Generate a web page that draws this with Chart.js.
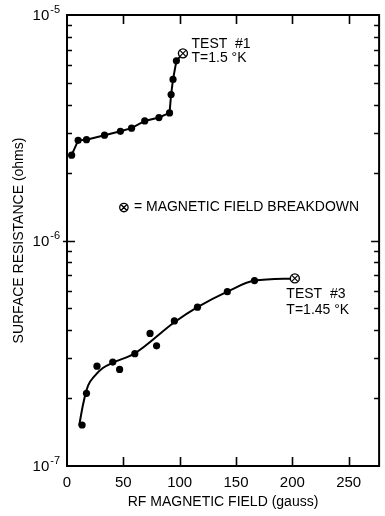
<!DOCTYPE html>
<html>
<head>
<meta charset="utf-8">
<script src="https://cdn.jsdelivr.net/npm/chart.js@4.4.1/dist/chart.umd.min.js"></script>
<style>
  html, body { margin: 0; padding: 0; background: #fff; }
</style>
</head>
<body>
<canvas id="chart" width="385" height="516"></canvas>
<script>
// Test #1, T = 1.5 K (measured points, joined by straight segments)
const test1Field = [4.1, 9.9, 17.3, 33.3, 47.4, 57.3, 69.0, 81.6, 91.0, 92.4, 94.1, 97.1];
const test1Resistance = [2.39e-6, 2.78e-6, 2.80e-6, 2.93e-6, 3.05e-6, 3.15e-6, 3.39e-6, 3.51e-6, 3.68e-6, 4.44e-6, 5.18e-6, 6.26e-6];

// Test #3, T = 1.45 K (measured points)
const test3Field = [13.4, 17.3, 26.6, 40.6, 46.7, 60.2, 73.7, 79.5, 95.3, 115.8, 142.3, 166.4];
const test3Resistance = [1.52e-7, 2.10e-7, 2.77e-7, 2.89e-7, 2.68e-7, 3.15e-7, 3.87e-7, 3.41e-7, 4.40e-7, 5.06e-7, 5.93e-7, 6.64e-7];

// Test #3 hand-drawn curve
const test3CurveField = [10.8, 14.3, 18.7, 24.6, 31.8, 40.6, 60.2, 95.3, 115.8, 142.3, 166.4, 202.2];
const test3CurveResistance = [1.51e-7, 1.88e-7, 2.27e-7, 2.51e-7, 2.72e-7, 2.87e-7, 3.16e-7, 4.34e-7, 5.06e-7, 5.93e-7, 6.64e-7, 6.79e-7];

// magnetic field breakdown
const breakdownField = [102.9, 202.2];
const breakdownResistance = [6.76e-6, 6.79e-7];

const xTickValues = [0, 50, 100, 150, 200, 250];
const yDecades = [1e-7, 1e-6, 1e-5];
const yDecadeExponents = ["-7", "-6", "-5"];

const FONT = "'Liberation Sans', Arial, sans-serif";

const toPoints = (xs, ys) => xs.map((x, i) => ({ x: x, y: ys[i] }));

// frame with inward ticks on all four sides, decade labels and the text notes
const framePlugin = {
  id: "frame",
  afterDatasetsDraw(chart) {
    const { ctx, chartArea: a, scales } = chart;
    const xs = scales.x, ys = scales.y;
    ctx.save();
    ctx.strokeStyle = "#000";
    ctx.lineWidth = 2;
    ctx.strokeRect(a.left, a.top, a.right - a.left, a.bottom - a.top);

    ctx.lineWidth = 1.6;
    ctx.beginPath();
    xTickValues.slice(1).forEach((v) => {
      const px = Math.round(xs.getPixelForValue(v)) + 0.5;
      ctx.moveTo(px, a.bottom); ctx.lineTo(px, a.bottom - 9);
      ctx.moveTo(px, a.top); ctx.lineTo(px, a.top + 9);
    });
    yDecades.slice(0, -1).forEach((d) => {
      for (let m = 2; m <= 9; m++) {
        const py = Math.round(ys.getPixelForValue(d * m)) + 0.5;
        ctx.moveTo(a.left, py); ctx.lineTo(a.left + 5, py);
        ctx.moveTo(a.right, py); ctx.lineTo(a.right - 5, py);
      }
    });
    const mid = Math.round(ys.getPixelForValue(1e-6)) + 0.5;
    ctx.moveTo(a.left - 4, mid); ctx.lineTo(a.left + 8, mid);
    ctx.moveTo(a.right, mid); ctx.lineTo(a.right - 8, mid);
    ctx.stroke();

    ctx.fillStyle = "#000";

    // decade labels: 10 with a raised exponent
    ctx.textBaseline = "middle";
    ctx.textAlign = "right";
    yDecades.forEach((d, i) => {
      const py = ys.getPixelForValue(d);
      ctx.font = "11px " + FONT;
      const ew = ctx.measureText(yDecadeExponents[i]).width;
      ctx.fillText(yDecadeExponents[i], a.left - 7, py - 5);
      ctx.font = "15px " + FONT;
      ctx.fillText("10", a.left - 8 - ew, py + 1);
    });

    // notes
    ctx.font = "14px " + FONT;
    ctx.textAlign = "left";
    const note = (text, x, y) => ctx.fillText(text, xs.getPixelForValue(x), ys.getPixelForValue(y));
    note("TEST  #1", 110.5, 7.43e-6);
    note("T=1.5 °K", 110.5, 6.44e-6);
    note("TEST  #3", 194.7, 5.81e-7);
    note("T=1.45 °K", 194.7, 4.93e-7);

    // legend: breakdown symbol
    const lx = xs.getPixelForValue(50.5), ly = ys.getPixelForValue(1.40e-6);
    ctx.lineWidth = 1.3;
    ctx.beginPath();
    ctx.arc(lx, ly, 4.2, 0, Math.PI * 2);
    ctx.moveTo(lx - 3, ly - 3); ctx.lineTo(lx + 3, ly + 3);
    ctx.moveTo(lx + 3, ly - 3); ctx.lineTo(lx - 3, ly + 3);
    ctx.stroke();
    ctx.fillText("= MAGNETIC FIELD BREAKDOWN", lx + 10, ly);
    ctx.restore();
  },
};

new Chart(document.getElementById("chart"), {
  type: "scatter",
  data: {
    datasets: [
      {
        label: "Test #1",
        data: toPoints(test1Field.concat([breakdownField[0]]), test1Resistance.concat([breakdownResistance[0]])),
        showLine: true,
        borderColor: "#000",
        borderWidth: 2,
        backgroundColor: "#000",
        pointRadius: (c) => (c.dataIndex < test1Field.length ? 3.6 : 0),
        pointBorderWidth: 0,
        tension: 0,
        order: 3,
      },
      {
        label: "Test #3 curve",
        data: toPoints(test3CurveField, test3CurveResistance),
        showLine: true,
        borderColor: "#000",
        borderWidth: 2,
        pointRadius: 0,
        cubicInterpolationMode: "monotone",
        order: 4,
      },
      {
        label: "Test #3",
        data: toPoints(test3Field, test3Resistance),
        backgroundColor: "#000",
        borderColor: "#000",
        pointRadius: 3.6,
        pointBorderWidth: 0,
        order: 2,
      },
      {
        label: "Breakdown",
        data: toPoints(breakdownField, breakdownResistance),
        backgroundColor: "#fff",
        borderColor: "#000",
        pointRadius: 4.5,
        pointBorderWidth: 1.4,
        order: 1,
      },
      {
        label: "Breakdown cross",
        data: toPoints(breakdownField, breakdownResistance),
        pointStyle: "crossRot",
        borderColor: "#000",
        pointRadius: 4.2,
        pointBorderWidth: 1.2,
        order: 0,
      },
    ],
  },
  options: {
    responsive: false,
    animation: false,
    devicePixelRatio: 1,
    layout: { padding: { top: 15, right: 2, left: 0, bottom: 0 } },
    plugins: { legend: { display: false }, tooltip: { enabled: false } },
    scales: {
      x: {
        type: "linear",
        min: 0,
        max: 277,
        grid: { display: false, drawTicks: false },
        border: { display: false },
        afterBuildTicks: (s) => { s.ticks = xTickValues.map((v) => ({ value: v })); },
        afterFit: (s) => { s.height = 50; },
        ticks: { color: "#000", font: { family: FONT, size: 15 }, padding: 8 },
        title: {
          display: true,
          text: "RF MAGNETIC FIELD (gauss)",
          color: "#000",
          font: { family: FONT, size: 14 },
          padding: { top: 0, bottom: 5 },
        },
      },
      y: {
        type: "logarithmic",
        min: 1e-7,
        max: 1e-5,
        grid: { display: false, drawTicks: false },
        border: { display: false },
        afterBuildTicks: (s) => { s.ticks = yDecades.map((v) => ({ value: v })); },
        afterFit: (s) => { s.width = 67; },
        ticks: { display: false },
        title: {
          display: true,
          text: "SURFACE RESISTANCE (ohms)",
          color: "#000",
          font: { family: FONT, size: 14 },
          padding: { top: 11, bottom: 0 },
        },
      },
    },
  },
  plugins: [framePlugin],
});
</script>
</body>
</html>
